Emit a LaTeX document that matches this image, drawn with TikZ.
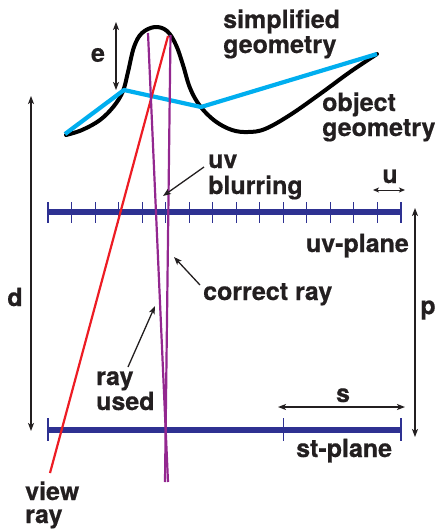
\documentclass[tikz,border=0pt]{standalone}
\usepackage{fontspec}
\setmainfont{TeX Gyre Heros}[BoldFeatures={FakeBold=0.5}]
\usetikzlibrary{arrows.meta}
\definecolor{navy}{HTML}{2E3192}
\definecolor{skyb}{HTML}{00AEEF}
\definecolor{rayred}{HTML}{ED1C24}
\definecolor{raypurple}{HTML}{93278F}
\definecolor{ink}{HTML}{231F20}
\begin{document}
\begin{tikzpicture}[x=1pt,y=-1pt,
  lbl/.style={font=\fontsize{25}{25}\selectfont\bfseries, text=ink, inner sep=0pt, align=left},
  dim/.style={draw=ink, line width=1.3pt, {Stealth[length=8pt,width=6pt,inset=2pt]}-{Stealth[length=8pt,width=6pt,inset=2pt]}},
  pointer/.style={draw=ink, line width=1.3pt, -{Stealth[length=8pt,width=6pt,inset=2pt]}},
  plane/.style={draw=navy, line width=5.5pt},
  tick/.style={draw=navy, line width=1.1pt},
  objgeo/.style={draw=black, line width=4pt, line cap=round},
  simpgeo/.style={draw=skyb, line width=4.2pt, line join=round},
  raystyle/.style={line width=2.2pt}]
\useasboundingbox (0,0) rectangle (435,531);

% object geometry
\draw[objgeo] plot[smooth, tension=0.6] coordinates {(66,135) (82,130) (100,120) (114,106) (123,91) (128,72) (134,47) (142,33) (155,27) (167,31) (176,45) (183,65) (190,88) (200,106) (215,121) (232,130) (248,132) (265,129) (290,115) (320,94) (350,72) (377,54)};
% simplified geometry
\coordinate (g1) at (65,134);
\coordinate (g2) at (124,90);
\coordinate (g3) at (201,107);
\coordinate (g4) at (377,54);
\draw[simpgeo] (g1) -- (g2) -- (g3) -- (g4);

% uv plane
\coordinate (uvL) at (48,212);
\coordinate (uvR) at (401,212);
\draw[plane] (uvL) -- (uvR);
\foreach \i in {0,...,15} \draw[tick] ({48+\i*23.533},202) -- ++(0,21);
% st plane
\coordinate (stL) at (48,430);
\coordinate (stM) at (283.3,430);
\coordinate (stR) at (401,430);
\draw[plane] (stL) -- (stR);
\foreach \p in {stL,stM,stR} \draw[tick] ([yshift=12pt]\p) -- ([yshift=-11pt]\p);

% rays
\coordinate (redA) at (168,36);
\coordinate (redB) at (50,473);
\coordinate (usedA) at (148,33);
\coordinate (usedB) at (168,482);
\coordinate (corA) at (170.5,35);
\coordinate (corB) at (165,482);
\draw[raystyle, rayred] (redA) -- (redB);
\draw[raystyle, raypurple] (usedA) -- (usedB);
\draw[raystyle, raypurple] (corA) -- (corB);

% dimension arrows
\coordinate (eT) at (116,22);
\coordinate (eB) at (116,90);
\draw[dim] (eT) -- (eB);
\node[lbl, anchor=center] (elbl) at (98,55) {e};

\coordinate (dT) at (31,96);
\coordinate (dB) at (31,431);
\draw[dim] (dT) -- (dB);
\node[lbl, anchor=center] (dlbl) at (15,297) {d};

\coordinate (pT) at (415,208);
\coordinate (pB) at (415,437);
\draw[dim] (pT) -- (pB);
\node[lbl, anchor=center] (plbl) at (428,310) {p};

\coordinate (uL) at (373,190);
\coordinate (uR) at (405,190);
\draw[dim, line width=1pt, {Stealth[length=6pt,width=5pt,inset=1.5pt]}-{Stealth[length=6pt,width=5pt,inset=1.5pt]}] (uL) -- (uR);
\node[lbl, anchor=base] (ulbl) at (390,183) {u};

\coordinate (sL) at (278,407);
\coordinate (sR) at (405,407);
\draw[dim] (sL) -- (sR);
\node[lbl, anchor=base] (slbl) at (343,402) {s};

% labels
\node[lbl, anchor=base west] (simp1) at (223,28) {simplified};
\node[lbl, anchor=base west] (simp2) at (223,53) {geometry};
\node[lbl, anchor=base west] (obj1) at (322,111) {object};
\node[lbl, anchor=base west] (obj2) at (322,136) {geometry};
\node[lbl, anchor=base west] (uv1) at (208,168) {uv};
\node[lbl, anchor=base west] (uv2) at (208,194) {blurring};
\node[lbl, anchor=base east] (uvplane) at (409,252) {uv-plane};
\node[lbl, anchor=base west] (correct) at (203,300) {correct ray};
\node[lbl, anchor=base west] (used1) at (96,385) {ray};
\node[lbl, anchor=base west] (used2) at (96,410) {used};
\node[lbl, anchor=base west] (stplane) at (296,457) {st-plane};
\node[lbl, anchor=base west] (view1) at (25,500) {view};
\node[lbl, anchor=base west] (view2) at (25,523) {ray};

% pointers
\coordinate (blurTip) at (163,196);
\coordinate (corTip) at (174,257);
\coordinate (usedTip) at (155,306);
\draw[pointer] ([xshift=-4pt,yshift=1pt]uv1.base west) -- (blurTip);
\draw[pointer] ([xshift=-3pt,yshift=15pt]correct.base west) -- (corTip);
\draw[pointer] ([xshift=32pt,yshift=18pt]used1.base west) -- (usedTip);
\end{tikzpicture}
\end{document}
